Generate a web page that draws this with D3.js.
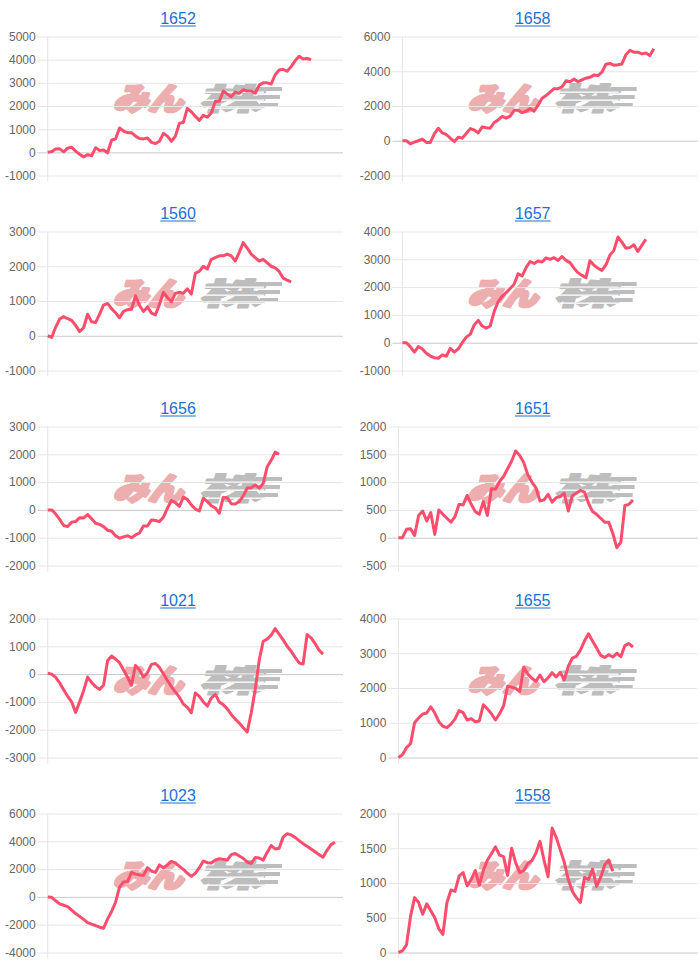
<!DOCTYPE html>
<html><head><meta charset="utf-8">
<script src="https://cdn.jsdelivr.net/npm/d3@7"></script>
<style>body{margin:0;background:#fff;} svg{display:block;}</style>
</head><body>
<svg id="c" width="700" height="965"></svg>
<script>
const titles = ["1652","1658","1560","1657","1656","1651","1021","1655","1023","1558"];

const s1652 = [0,30,140,150,20,180,220,50,-80,-200,-100,-150,200,80,100,-20,520,580,1050,920,850,850,700,600,580,620,430,380,480,820,700,480,700,1250,1300,1900,1750,1550,1380,1600,1520,1700,2200,2200,2650,2500,2400,2600,2550,2700,2650,2650,2550,2900,3000,3000,2950,3350,3550,3580,3500,3700,3950,4150,4030,4050,4000];
const s1658 = [0,0,-180,-80,0,100,-100,-100,400,720,450,360,150,-50,200,150,420,700,620,450,800,750,720,1050,1200,1400,1300,1420,1750,1750,1620,1700,1850,1700,2050,2450,2600,2800,3000,3000,3100,3450,3400,3550,3400,3500,3600,3650,3780,3750,3950,4400,4450,4350,4380,4420,4950,5200,5100,5100,5000,5050,4900,5300];
const s1560 = [0,-50,250,480,550,490,440,300,120,230,620,400,380,620,880,930,780,660,520,700,750,760,1150,870,700,830,650,600,900,1250,1100,980,1220,1250,1220,1350,1200,1800,1850,2000,1920,2200,2250,2300,2300,2350,2300,2150,2400,2680,2520,2350,2250,2150,2200,2100,2000,1950,1850,1660,1600,1550];
const s1657 = [0,0,-150,-340,-140,-230,-380,-480,-540,-560,-440,-490,-200,-340,-220,0,200,300,640,800,600,520,600,1120,1480,1670,1800,1950,2100,2480,2400,2700,2920,2850,2940,2900,3050,3000,3060,2960,3100,2960,2880,2680,2520,2420,2340,2950,2790,2680,2600,2800,3150,3320,3800,3620,3400,3420,3520,3280,3500,3720];
const s1656 = [0,0,-150,-340,-560,-600,-440,-420,-280,-290,-170,-320,-480,-520,-600,-730,-770,-930,-1020,-970,-930,-1000,-900,-830,-580,-580,-360,-380,-420,-260,60,340,260,130,460,380,180,30,-40,420,300,150,70,-120,450,440,220,210,300,500,790,800,900,780,950,1550,1780,2080,2000];
const s1651 = [0,0,150,160,40,400,480,300,450,60,500,420,350,280,380,600,590,760,600,470,420,650,400,880,870,1010,1100,1240,1380,1560,1480,1350,1130,1000,900,660,680,780,640,720,740,800,480,760,800,850,820,620,470,420,350,280,280,80,-180,-80,580,600,680];
const s1021 = [30,0,-120,-320,-560,-800,-1000,-1380,-1000,-600,-110,-300,-450,-550,-400,480,650,540,410,150,-110,-400,310,150,-100,50,350,380,240,10,-230,-450,-650,-830,-1080,-1200,-1390,-680,-800,-1000,-1150,-860,-730,-1000,-1100,-1250,-1450,-1620,-1760,-1930,-2080,-1400,-550,500,1180,1260,1400,1640,1440,1230,1000,820,600,400,360,1420,1300,1100,860,720];
const s1655 = [0,80,280,400,1000,1140,1250,1280,1460,1280,1030,900,860,960,1110,1350,1290,1080,1120,1030,1050,1520,1400,1260,1080,1260,1480,2050,2020,1990,1900,2600,2400,2280,2190,2370,2180,2290,2440,2320,2450,2230,2620,2860,2910,3090,3350,3560,3350,3150,2940,2880,2960,2890,3000,2900,3220,3280,3180];
const s1023 = [0,-30,-280,-500,-600,-700,-950,-1200,-1400,-1620,-1850,-1960,-2060,-2180,-2250,-1600,-1050,-400,700,1080,1100,1760,1640,1570,1550,2100,1850,1760,2300,2100,2300,2550,2450,2200,1980,1700,1480,1700,2100,2580,2460,2440,2650,2750,2700,2650,3040,3130,2940,2780,2500,2400,2830,2800,2650,3200,3690,3450,3500,4300,4550,4460,4280,4050,3830,3650,3450,3250,3040,2860,3350,3760,3930];
const s1558 = [0,25,110,520,790,720,550,700,600,500,340,260,720,900,880,1100,1150,960,1050,1180,970,1180,1330,1420,1520,1400,1380,1110,1500,1290,1150,1180,1280,1320,1430,1600,1330,1090,1790,1660,1480,1300,1050,880,790,720,1080,1050,1200,950,1080,1260,1330,1170];

const t1652 = [-1000,0,1000,2000,3000,4000,5000];
const t1658 = [-2000,0,2000,4000,6000];
const t1560 = [-1000,0,1000,2000,3000];
const t1657 = [-1000,0,1000,2000,3000,4000];
const t1656 = [-2000,-1000,0,1000,2000,3000];
const t1651 = [-500,0,500,1000,1500,2000];
const t1021 = [-3000,-2000,-1000,0,1000,2000];
const t1655 = [0,1000,2000,3000,4000];
const t1023 = [-4000,-2000,0,2000,4000,6000];
const t1558 = [0,500,1000,1500,2000];

const seriesList = [s1652,s1658,s1560,s1657,s1656,s1651,s1021,s1655,s1023,s1558];
const tickList = [t1652,t1658,t1560,t1657,t1656,t1651,t1021,t1655,t1023,t1558];
const SLOTS = 75;

const svg = d3.select("#c");
const colX = [0, 354.7];
const rowY = [0, 195, 390, 582, 777];
const FONT = "'Liberation Sans', Arial, Helvetica, sans-serif";

const meas = svg.append("text").attr("font-family", FONT).attr("font-size", 12).attr("x", -100).attr("y", -100);
function tw(s){ meas.text(s); return meas.node().getComputedTextLength(); }

titles.forEach((title, k) => {
  const col = k % 2, row = Math.floor(k / 2);
  const px = colX[col], py = rowY[row];
  const ticks = tickList[k];
  const data = seriesList[k];
  const top = py + 36.5, bottom = py + 175.5;
  const maxW = d3.max(ticks, t => tw(String(t)));
  const plotLeft = px + 5 + maxW + 12;
  const plotRight = px + 343;
  const y = d3.scaleLinear().domain(d3.extent(ticks)).range([bottom, top]);
  const x = d3.scaleLinear().domain([0, SLOTS - 1]).range([plotLeft, plotRight]);
  const g = svg.append("g");

  // title (link style)
  const tt = g.append("text").attr("x", px + 178).attr("y", py + 24)
    .attr("text-anchor", "middle").attr("font-family", FONT).attr("font-size", 16)
    .attr("fill", "#1f6fd1").text(title);
  const w = tt.node().getComputedTextLength();
  g.append("line").attr("x1", px + 178 - w/2).attr("x2", px + 178 + w/2)
    .attr("y1", py + 26).attr("y2", py + 26).attr("stroke", "#1f6fd1").attr("stroke-width", 1);

  // watermark
  const wm = g.append("g").attr("opacity", 0.9);
  wm.append("text").attr("transform", `translate(${px + 113},${py + 110}) skewX(-16)`)
    .attr("font-family", "'Noto Sans CJK JP', sans-serif").attr("font-weight", 900)
    .attr("font-size", 31).attr("fill", "#eaa6a6").attr("stroke", "#eaa6a6").attr("stroke-width", 3)
    .attr("stroke-linejoin", "round")
    .attr("textLength", 70).attr("lengthAdjust", "spacingAndGlyphs").text("みん");
  wm.append("text").attr("transform", `translate(${px + 199},${py + 110}) skewX(-16)`)
    .attr("font-family", "'Noto Sans CJK JP', sans-serif").attr("font-weight", 900)
    .attr("font-size", 31).attr("fill", "#b6b6b6").attr("stroke", "#b6b6b6").attr("stroke-width", 1.2)
    .attr("stroke-linejoin", "round")
    .attr("textLength", 64).attr("lengthAdjust", "spacingAndGlyphs").text("株");
  [87, 95, 103].forEach((yy, j) => {
    wm.append("rect").attr("x", px + 256 + j*2).attr("y", py + yy).attr("width", 26 - j*4).attr("height", 4).attr("fill", "#b6b6b6");
  });
  [91.5, 99.5, 107.5].forEach(yy => {
    wm.append("rect").attr("x", px + 194).attr("y", py + yy).attr("width", 70).attr("height", 1.3).attr("fill", "#fff");
  });

  // gridlines
  const grid = g.append("g").attr("transform", `translate(${plotRight},0)`)
    .call(d3.axisLeft(y).tickValues(ticks).tickSize(plotRight - plotLeft + 10).tickFormat(""));
  grid.select(".domain").remove();
  grid.selectAll(".tick line").attr("stroke", d => d === 0 ? "#c9c9c9" : "#e6e6e6").attr("stroke-width", 1);

  // vertical axis line
  g.append("line").attr("x1", plotLeft).attr("x2", plotLeft).attr("y1", top).attr("y2", bottom + 6)
    .attr("stroke", "#e6e6e6");

  // labels
  const lab = g.append("g").attr("transform", `translate(${plotLeft},0)`)
    .call(d3.axisLeft(y).tickValues(ticks).tickSize(0).tickPadding(12).tickFormat(d => String(d)));
  lab.select(".domain").remove();
  lab.selectAll("text").attr("font-family", FONT).attr("font-size", 12).attr("fill", "#666");

  // line
  const line = d3.line().x((d, i) => x(i)).y(d => y(d));
  g.append("path").datum(data).attr("d", line).attr("fill", "none")
    .attr("stroke", "#fd4d6d").attr("stroke-width", 3).attr("stroke-linejoin", "round");
});
meas.remove();
</script>
</body></html>
